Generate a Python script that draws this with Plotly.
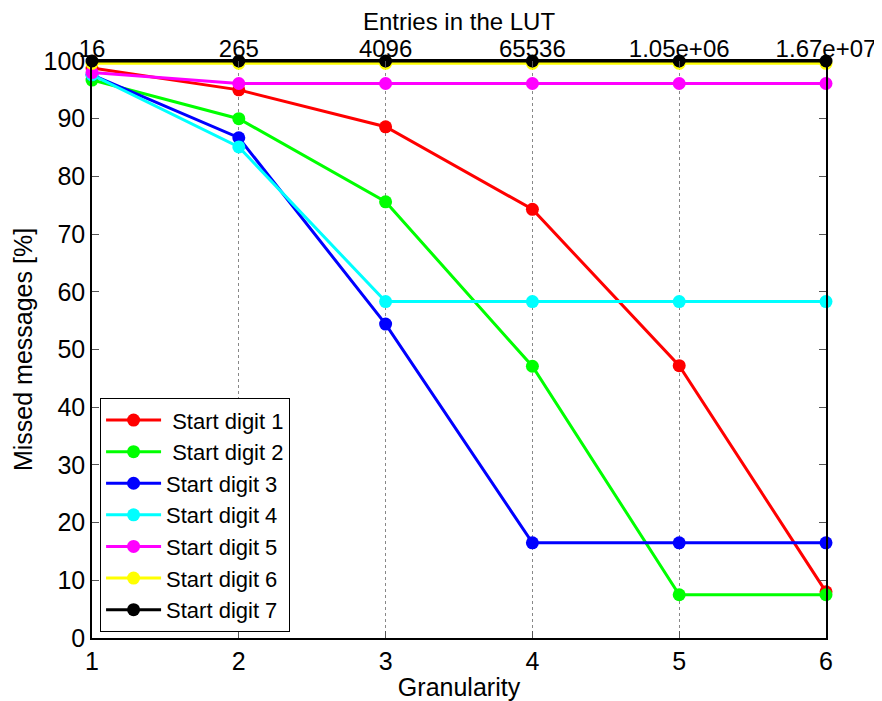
import plotly.graph_objects as go

granularity = [1, 2, 3, 4, 5, 6]
lut_entries = ["16", "265", "4096", "65536", "1.05e+06", "1.67e+07"]

series_names = [" Start digit 1", " Start digit 2", "Start digit 3", "Start digit 4",
                "Start digit 5", "Start digit 6", "Start digit 7"]
digit1 = [98.8, 95.0, 88.6, 74.3, 47.2, 8.0]
digit2 = [96.7, 90.0, 75.6, 47.1, 7.5, 7.5]
digit3 = [97.6, 86.7, 54.4, 16.5, 16.5, 16.5]
digit4 = [97.6, 85.1, 58.3, 58.3, 58.3, 58.3]
digit5 = [98.0, 96.1, 96.1, 96.1, 96.1, 96.1]
digit6 = [99.6, 99.6, 99.6, 99.6, 99.6, 99.6]
digit7 = [100.0, 100.0, 100.0, 100.0, 100.0, 100.0]
series = [digit1, digit2, digit3, digit4, digit5, digit6, digit7]
colors = ["#ff0000", "#00ff00", "#0000ff", "#00ffff", "#ff00ff", "#ffff00", "#000000"]

FONT = "Liberation Sans, Arial, Helvetica, sans-serif"
FS = 25

fig = go.Figure()
for name, vals, col in zip(series_names, series, colors):
    fig.add_trace(go.Scatter(
        x=granularity, y=vals, name=name, mode="lines+markers",
        line=dict(color=col, width=3), marker=dict(color=col, size=13),
        cliponaxis=False,
    ))

# invisible trace for top axis
fig.add_trace(go.Scatter(x=granularity, y=[None]*6, xaxis="x2", showlegend=False,
                         hoverinfo="skip", mode="markers"))

fig.add_annotation(text="Entries in the LUT", xref="paper", yref="paper", x=0.5, y=1,
                   xanchor="center", yanchor="middle", yshift=40, showarrow=False,
                   borderpad=0, font=dict(size=24, family=FONT, color="black"))

fig.update_layout(
    width=874, height=693,
    margin=dict(l=84, r=56, t=53, b=63),
    paper_bgcolor="white", plot_bgcolor="white",
    font=dict(family=FONT, size=FS, color="black"),
    showlegend=True,
    legend=dict(x=0.011, y=0.01, xanchor="left", yanchor="bottom",
                bgcolor="white", bordercolor="black", borderwidth=1,
                font=dict(size=22, family=FONT), tracegroupgap=0, itemwidth=55),
    xaxis=dict(
        range=[1, 6], tickvals=granularity, ticktext=[str(g) for g in granularity],
        showgrid=True, gridcolor="#888888", griddash="dot", gridwidth=1,
        showline=True, linecolor="black", linewidth=1.5, mirror=False,
        ticks="inside", ticklen=7, tickcolor="#555555",
        title=dict(text="Granularity", standoff=5, font=dict(size=FS)),
        zeroline=False, tickfont=dict(size=FS), automargin=False,
    ),
    xaxis2=dict(
        range=[1, 6], overlaying="x", side="top", tickvals=granularity, ticktext=lut_entries,
        showgrid=False, showline=True, linecolor="black", linewidth=1.5,
        ticks="inside", ticklen=7, tickcolor="#555555", ticklabelstandoff=-7,
        zeroline=False, tickfont=dict(size=24), automargin=False,
    ),
    yaxis=dict(
        range=[0, 100], tickvals=list(range(0, 101, 10)),
        showgrid=False, showline=True, linecolor="black", linewidth=1.5, mirror="ticks",
        ticks="inside", ticklen=7, tickcolor="#555555",
        title=dict(text="Missed messages [%]", standoff=4, font=dict(size=FS)),
        zeroline=False, tickfont=dict(size=FS), automargin=False,
    ),
)

fig.write_html("out.html")
